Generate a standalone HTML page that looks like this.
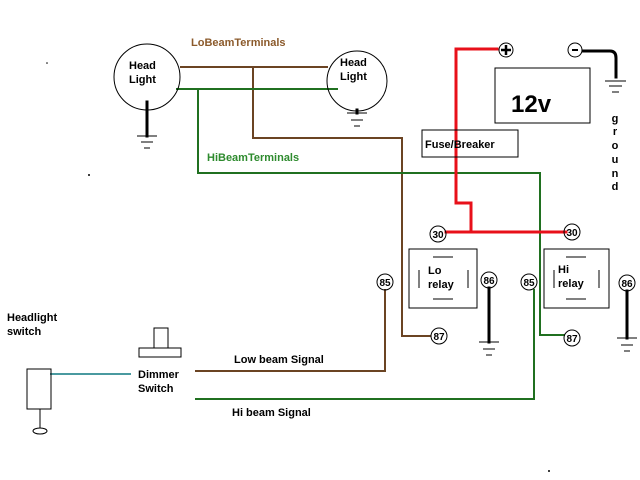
<!DOCTYPE html>
<html><head><meta charset="utf-8"><style>
body{margin:0;background:#fff;}
svg{display:block;font-family:"Liberation Sans",Arial,sans-serif;font-weight:bold;}
</style></head><body>
<svg width="640" height="480" viewBox="0 0 640 480" xmlns="http://www.w3.org/2000/svg">
<rect width="640" height="480" fill="#fff"/>
<g fill="none" stroke-linecap="square">
<polyline points="181,67 327,67" stroke="#6b4423" stroke-width="2"/>
<polyline points="253,67 253,138 402,138 402,336 430,336" stroke="#6b4423" stroke-width="2"/>
<polyline points="385,290 385,371 196,371" stroke="#6b4423" stroke-width="2"/>
<polyline points="177,89 337,89" stroke="#207020" stroke-width="2"/>
<polyline points="198,89 198,173 540,173 540,335 564,335" stroke="#207020" stroke-width="2"/>
<polyline points="534,290 534,399 196,399" stroke="#207020" stroke-width="2"/>
<line x1="51" y1="374" x2="130" y2="374" stroke="#4a9aa0" stroke-width="2"/>
<polyline points="497,49 456,49 456,203 471,203 471,232" stroke="#e8101a" stroke-width="3"/>
<line x1="446" y1="232" x2="566" y2="232" stroke="#e8101a" stroke-width="3"/>
<path d="M583,51 L610,51 Q616,51 616,58 L616,77" stroke="#000" stroke-width="3"/>
<line x1="147" y1="102" x2="147" y2="136" stroke="#000" stroke-width="3"/>
<line x1="357" y1="110" x2="357" y2="113" stroke="#000" stroke-width="3"/>
<line x1="489" y1="288" x2="489" y2="342" stroke="#000" stroke-width="3"/>
<line x1="627" y1="291" x2="627" y2="338" stroke="#000" stroke-width="3"/>
</g>
<g stroke="#000" stroke-width="1" fill="none">
<path d="M137,136h20M141,142h12M144,148h6"/>
<path d="M347,113h20M351,120h12M354,126h6"/>
<path d="M605,81h21M609,86h13M612,92h7"/>
<path d="M479,342h20M483,349h12M486,355h6"/>
<path d="M617,338h20M621,345h12M624,351h6"/>
<circle cx="147" cy="77" r="33"/>
<circle cx="357" cy="81" r="30"/>
<rect x="495" y="68" width="95" height="55"/>
<rect x="422" y="130" width="96" height="27"/>
<rect x="409" y="249" width="68" height="59"/>
<path d="M433,257h20M433,299h20M419,270v18M468,270v18"/>
<rect x="544" y="249" width="65" height="59"/>
<path d="M566,257h20M566,299h20M554,270v18M599,270v18"/>
<circle cx="438" cy="234" r="8"/><circle cx="572" cy="232" r="8"/>
<circle cx="385" cy="282" r="8"/><circle cx="529" cy="282" r="8"/>
<circle cx="489" cy="280" r="8"/><circle cx="627" cy="283" r="8"/>
<circle cx="439" cy="336" r="8"/><circle cx="572" cy="338" r="8"/>
<circle cx="506" cy="50" r="7"/><circle cx="575" cy="50" r="7"/>
<rect x="27" y="369" width="24" height="40"/>
<line x1="40" y1="409" x2="40" y2="428"/>
<ellipse cx="40" cy="431" rx="7" ry="3"/>
<rect x="154" y="328" width="14" height="20"/>
<rect x="139" y="348" width="42" height="9"/>
</g>
<path d="M501,50h10M506,45v10" stroke="#000" stroke-width="2.5"/>
<path d="M572,50h6" stroke="#000" stroke-width="2"/>
<g font-size="11" fill="#000">
<text x="129" y="69">Head</text><text x="129" y="83">Light</text>
<text x="340" y="66">Head</text><text x="340" y="80">Light</text>
<text x="191" y="46" fill="#8b5a2b">LoBeamTerminals</text>
<text x="207" y="161" fill="#2e8b2e">HiBeamTerminals</text>
<text x="425" y="148">Fuse/Breaker</text>
<text x="428" y="274">Lo</text><text x="428" y="288">relay</text>
<text x="558" y="273">Hi</text><text x="558" y="287">relay</text>
<text x="7" y="321">Headlight</text><text x="7" y="335">switch</text>
<text x="138" y="378">Dimmer</text><text x="138" y="392">Switch</text>
<text x="234" y="363">Low beam Signal</text>
<text x="232" y="416">Hi beam Signal</text>
</g>
<g font-size="10" fill="#000" text-anchor="middle">
<text x="438" y="238">30</text><text x="572" y="236">30</text>
<text x="385" y="286">85</text><text x="529" y="286">85</text>
<text x="489" y="284">86</text><text x="627" y="287">86</text>
<text x="439" y="340">87</text><text x="572" y="342">87</text>
</g>
<text x="511" y="112" font-size="24" fill="#000">12v</text>
<g font-size="11" fill="#000" text-anchor="middle">
<text x="615" y="122">g</text><text x="615" y="135">r</text><text x="615" y="149">o</text>
<text x="615" y="163">u</text><text x="615" y="177">n</text><text x="615" y="190">d</text>
</g>
<circle cx="47" cy="63" r="0.8" fill="#000"/><circle cx="89" cy="175" r="1" fill="#000"/><circle cx="549" cy="471" r="1" fill="#000"/>
</svg>
</body></html>
